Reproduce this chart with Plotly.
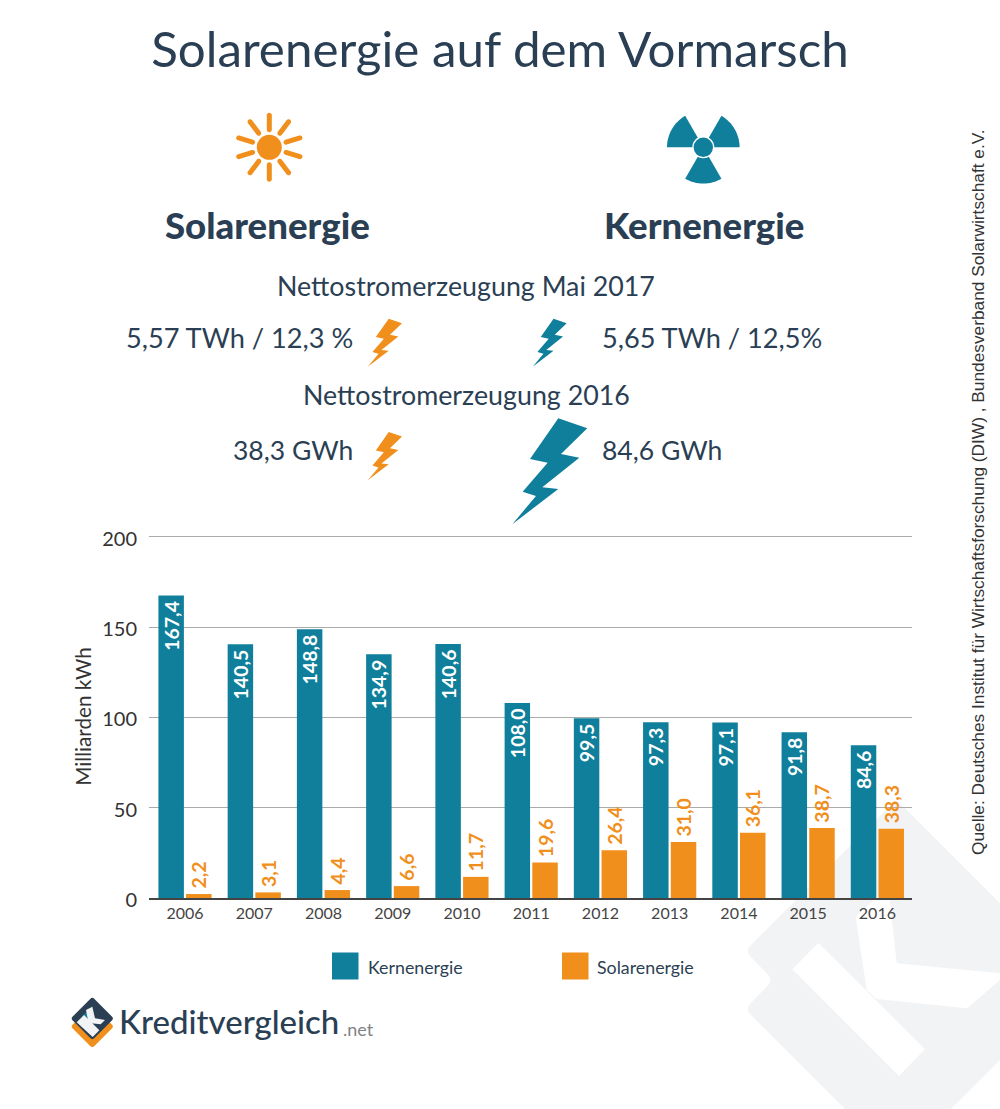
import math
import plotly.graph_objects as go

years = ["2006","2007","2008","2009","2010","2011","2012","2013","2014","2015","2016"]
kernenergie = [167.4,140.5,148.8,134.9,140.6,108.0,99.5,97.3,97.1,91.8,84.6]
solarenergie = [2.2,3.1,4.4,6.6,11.7,19.6,26.4,31.0,36.1,38.7,38.3]
y_ticks = [0,50,100,150,200]

W, H = 1000, 1109
TEAL = "#0F7F9C"
ORANGE = "#F18F1C"
NAVY = "#2B3F54"
FONT = "Lato"

def X(v): return v / W
def Y(v): return 1 - v / H

def poly(points, fill, layer="above"):
    d = "M" + " L".join(f"{X(x):.5f},{Y(y):.5f}" for x, y in points) + " Z"
    return dict(type="path", path=d, xref="paper", yref="paper", fillcolor=fill,
                line=dict(width=0), layer=layer)

def circle(cx, cy, r, fill, layer="above"):
    return dict(type="circle", xref="paper", yref="paper", x0=X(cx-r), x1=X(cx+r),
                y0=Y(cy+r), y1=Y(cy-r), fillcolor=fill, line=dict(width=0), layer=layer)

def arc(cx, cy, r, a0, a1, n=16):
    return [(cx + r*math.cos(math.radians(a0+(a1-a0)*i/n)),
             cy - r*math.sin(math.radians(a0+(a1-a0)*i/n))) for i in range(n+1)]

def ray(cx, cy, r0, r1, ang, w, fill):
    a = ang
    ex, ey = cx + r1*math.cos(math.radians(a)), cy - r1*math.sin(math.radians(a))
    sx, sy = cx + r0*math.cos(math.radians(a)), cy - r0*math.sin(math.radians(a))
    return poly(arc(ex, ey, w/2, a-90, a+90, 8) + arc(sx, sy, w/2, a+90, a+270, 8), fill)

def rounded(points, rad, fill, layer="below"):
    parts = []
    n = len(points)
    for i, (x, y) in enumerate(points):
        px, py = points[i-1]
        nx, ny = points[(i+1) % n]
        d1 = math.hypot(px-x, py-y); d2 = math.hypot(nx-x, ny-y)
        a = (x+(px-x)*rad/d1, y+(py-y)*rad/d1)
        b = (x+(nx-x)*rad/d2, y+(ny-y)*rad/d2)
        parts.append(("M" if i == 0 else "L") + f"{X(a[0]):.5f},{Y(a[1]):.5f}")
        parts.append(f"Q{X(x):.5f},{Y(y):.5f} {X(b[0]):.5f},{Y(b[1]):.5f}")
    return dict(type="path", path=" ".join(parts)+" Z", xref="paper", yref="paper",
                fillcolor=fill, line=dict(width=0), layer=layer)

BOLT = [(175,985),(262,1015),(183,1092),(238,1103),(127,1192),(175,1197),(37,1303),
        (108,1218),(68,1205),(143,1118),(90,1107)]
def bolt(x0, x1, y0, y1, fill):
    return poly([(x0+(x-37)/225*(x1-x0), y0+(y-985)/318*(y1-y0)) for x, y in BOLT], fill)

shapes = []
# watermark
WM = "#F2F3F5"
def z(x, y): return (740 + x/3, 780 + y/3)
shapes.append(rounded([z(15,513),z(469,59),z(900,490),z(900,720),z(600,1020),z(348,1020),z(15,687),z(100,600)], 8, WM))
shapes.append(poly([z(235,488),z(555,808),z(477,888),z(157,568)], "#FFFFFF", "below"))
shapes.append(poly([z(347,410),z(445,320),z(470,550),z(800,582),z(682,685),z(410,657),z(380,630)], "#FFFFFF", "below"))
# sun
for a in [90,53,17,-17,-53,-90,-127,-163,163,127]:
    shapes.append(ray(269.3,147.3,17.5,32,a,5,ORANGE))
shapes.append(circle(269.3,147.3,12.5,ORANGE))
# radiation
cx, cy = 703.3, 147.3
for a0, a1 in [(0,60),(120,180),(240,300)]:
    shapes.append(poly([(cx,cy)] + arc(cx,cy,36.3,a0,a1), TEAL))
shapes.append(circle(cx,cy,11,"#FFFFFF"))
shapes.append(circle(cx,cy,9.7,TEAL))
# bolts
shapes += [bolt(367.7,402,318.7,366.7,ORANGE), bolt(367.7,402,432,480.3,ORANGE),
           bolt(532.7,566.7,318.7,366.7,TEAL), bolt(512.3,587.3,418.3,524.3,TEAL)]
# legend swatches
for x0, c in [(332,TEAL),(562,ORANGE)]:
    shapes.append(dict(type="rect",xref="paper",yref="paper",x0=X(x0),x1=X(x0+26.5),
                       y0=Y(979.5),y1=Y(952.5),fillcolor=c,line=dict(width=0)))
# logo
def diamond(cx, cy, r, fill):
    return rounded([(cx-r,cy),(cx,cy-r),(cx+r,cy),(cx,cy+r)], 3, fill, "above")
def lz(x, y): return (60 + x/3, 985 + y/3)
shapes.append(diamond(92.3,1026.5,21.7,ORANGE))
shapes.append(diamond(92.3,1018.5,21.7,NAVY))
shapes.append(poly([lz(65,95),lz(80,80),lz(84,104)], TEAL))
shapes.append(poly([lz(50,112),lz(72,90),lz(118,136),lz(98,156)], "#F2F3F5"))
shapes.append(poly([lz(78,75),lz(97,65),lz(105,100),lz(135,105),lz(122,118),lz(92,115),lz(84,106)], "#F2F3F5"))

def txt(x, y, s, size, color=NAVY, anchor="center", weight=400, family=FONT, angle=0, yanchor="middle"):
    return dict(x=X(x), y=Y(y), xref="paper", yref="paper", text=s,
                showarrow=False, xanchor=anchor, yanchor=yanchor, textangle=angle,
                font=dict(family=family, size=size, color=color, weight=weight))

annotations = [
    txt(267.5,225,"Solarenergie",36.6,weight=900),
    txt(703.5,225,"Kernenergie",36.6,weight=900),
    txt(466,286,"Nettostromerzeugung Mai 2017",26.8),
    txt(355,337,"5,57 TWh / 12,3 %",27.2,anchor="right"),
    txt(600,337,"5,65 TWh / 12,5%",27.2,anchor="left"),
    txt(466,395,"Nettostromerzeugung 2016",26.8),
    txt(355,450,"38,3 GWh",26.5,anchor="right"),
    txt(600,450,"84,6 GWh",26.5,anchor="left"),
    txt(366,967,"Kernenergie",17.8,anchor="left"),
    txt(595,967,"Solarenergie",17.8,anchor="left"),
    txt(117,1021,"Kreditvergleich",33,anchor="left",weight=500),
    txt(341,1029,".net",18,color="#808285",anchor="left"),
    txt(978,493,"Quelle: Deutsches Institut für Wirtschaftsforschung (DIW) , Bundesverband Solarwirtschaft e.V.",
        17.3,color="#333333",angle=-90,family="Liberation Sans"),
]

fig = go.Figure()
fig.add_bar(name="Kernenergie", x=years, y=kernenergie, marker=dict(color=TEAL, line=dict(width=0)),
            texttemplate="%{y:.1f}\u2009", textposition="inside", insidetextanchor="end", textangle=-90,
            insidetextfont=dict(family=FONT, size=19.5, color="#FFFFFF", weight="bold"),
            constraintext="none", cliponaxis=False)
fig.add_bar(name="Solarenergie", x=years, y=solarenergie, marker=dict(color=ORANGE, line=dict(width=0)),
            texttemplate="\u2009%{y:.1f}", textposition="outside", textangle=-90,
            outsidetextfont=dict(family=FONT, size=19.5, color=ORANGE, weight="bold"),
            constraintext="none", cliponaxis=False)

fig.update_layout(
    width=W, height=H, margin=dict(l=0,r=0,t=0,b=0), autosize=False,
    paper_bgcolor="#FFFFFF", plot_bgcolor="rgba(0,0,0,0)",
    barmode="group", bargap=0.2, bargroupgap=0.08, separators=",.",
    showlegend=False, font=dict(family=FONT, color=NAVY),
    title=dict(text="Solarenergie auf dem Vormarsch", x=0.5, xanchor="center", xref="paper",
               y=Y(50), yref="paper", yanchor="middle", font=dict(family=FONT, size=49.3, color=NAVY)),
    xaxis=dict(domain=[X(149),X(912)], type="category", range=[-0.52,10.5], showgrid=False,
               automargin=False, zeroline=False, showline=True, linecolor="#444444", linewidth=1.5, ticks="",
               tickfont=dict(family=FONT, size=16, color="#444444"), ticklabelstandoff=0),
    yaxis=dict(domain=[Y(898),Y(534.9)], range=[0,201], tickvals=y_ticks, showgrid=True,
               automargin=False, gridcolor="#ABABAB", gridwidth=1, zeroline=False, ticks="",
               tickfont=dict(family=FONT, size=20, color="#333333"), ticklabelstandoff=11, ticklabelshift=2,
               title=dict(text="Milliarden kWh", font=dict(family=FONT, size=20.7, color="#333333"), standoff=4)),
    shapes=shapes, annotations=annotations,
)
fig.write_html("out.html", post_script="document.body.style.margin='0';",
               config={"displayModeBar": False})
